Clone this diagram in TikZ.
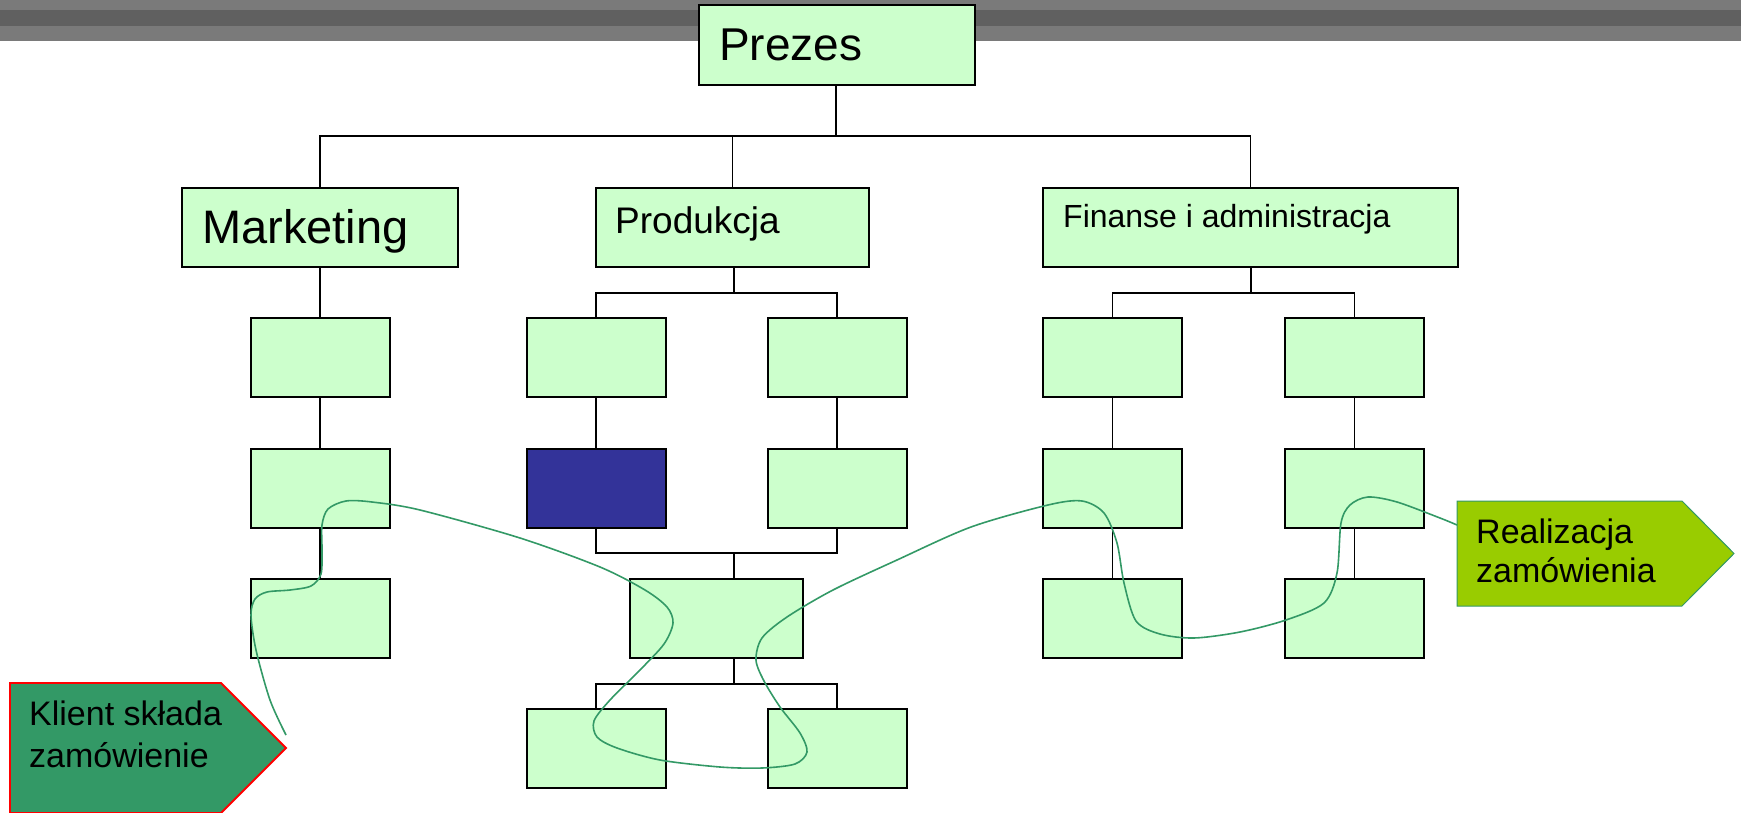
\documentclass[tikz,border=0pt]{standalone}
\usepackage{fontspec}
\setmainfont{Liberation Sans}
\definecolor{boxgreen}{HTML}{CCFFCC}
\definecolor{boxblue}{HTML}{333399}
\definecolor{seagreen}{HTML}{339966}
\definecolor{limegreen}{HTML}{99CC00}
\definecolor{barlight}{HTML}{7A7A7A}
\definecolor{bardark}{HTML}{606060}
\tikzset{
  box/.style={draw=black, line width=2pt, fill=boxgreen, inner sep=0pt, minimum width=139pt, minimum height=79pt},
  topbox/.style={box, minimum height=79pt},
  conn/.style={draw=black, line width=1.8pt},
  lbl/.style={anchor=base west, inner sep=0pt, text=black},
  flow/.style={draw=seagreen, line width=1.6pt}
}
\begin{document}
\begin{tikzpicture}[x=1pt,y=-1pt]
\useasboundingbox (0,0) rectangle (1741,812);
% top bar
\fill[barlight] (0,0) rectangle (1741,41);
\fill[bardark] (0,10) rectangle (1741,26);

% top level
\node[topbox, minimum width=276pt, minimum height=80pt] (prezes) at (837,45) {};
\node[lbl, font=\fontsize{46}{55}\selectfont] (tprezes) at (719,60) {Prezes};
\node[topbox, minimum width=276pt] (mkt) at (320,227.5) {};
\node[lbl, font=\fontsize{47}{56}\selectfont] (tmkt) at (202,243) {Marketing};
\node[topbox, minimum width=273pt] (prod) at (732.5,227.5) {};
\node[lbl, font=\fontsize{37}{44}\selectfont] (tprod) at (615,233) {Produkcja};
\node[topbox, minimum width=415pt] (fin) at (1250.5,227.5) {};
\node[lbl, font=\fontsize{32}{38}\selectfont] (tfin) at (1063,227) {Finanse i administracja};

% marketing column
\node[box] (m1) at (320,357.5) {};
\node[box] (m2) at (320,488.5) {};
\node[box] (m3) at (320,618.5) {};
% production
\node[box] (p1) at (596,357.5) {};
\node[box] (p2) at (837,357.5) {};
\node[box, fill=boxblue] (p3) at (596,488.5) {};
\node[box] (p4) at (837,488.5) {};
\node[box, minimum width=173pt] (pm) at (716.5,618.5) {};
\node[box] (p5) at (596,748.5) {};
\node[box] (p6) at (837,748.5) {};
% finance
\node[box] (f1) at (1112.5,357.5) {};
\node[box] (f2) at (1354.5,357.5) {};
\node[box] (f3) at (1112.5,488.5) {};
\node[box] (f4) at (1354.5,488.5) {};
\node[box] (f5) at (1112.5,618.5) {};
\node[box] (f6) at (1354.5,618.5) {};

% connectors
\coordinate (bus0) at (836,136);
\draw[conn] (bus0 |- prezes.south) -- (bus0);
\draw[conn] (mkt.north) -- (mkt.north |- bus0) -- (fin.north |- bus0) -- (fin.north);
\draw[conn] (prod.north) -- (prod.north |- bus0);
\draw[conn] (mkt.south) -- (m1.north);
\draw[conn] (m1.south) -- (m2.north);
\draw[conn] (m2.south) -- (m3.north);

\coordinate (pbus1) at (734,293);
\draw[conn] (pbus1 |- prod.south) -- (pbus1);
\draw[conn] (p1.north) -- (p1.north |- pbus1) -- (p2.north |- pbus1) -- (p2.north);
\draw[conn] (p1.south) -- (p3.north);
\draw[conn] (p2.south) -- (p4.north);
\coordinate (pbus2) at (734,553);
\draw[conn] (p3.south) -- (p3.south |- pbus2) -- (p4.south |- pbus2) -- (p4.south);
\draw[conn] (pbus2) -- (pbus2 |- pm.north);
\coordinate (pbus3) at (734,684);
\draw[conn] (pbus3 |- pm.south) -- (pbus3);
\draw[conn] (p5.north) -- (p5.north |- pbus3) -- (p6.north |- pbus3) -- (p6.north);

\coordinate (fbus1) at (1251,293);
\draw[conn] (fbus1 |- fin.south) -- (fbus1);
\draw[conn] (f1.north) -- (f1.north |- fbus1) -- (f2.north |- fbus1) -- (f2.north);
\draw[conn] (f1.south) -- (f3.north);
\draw[conn] (f2.south) -- (f4.north);
\draw[conn] (f3.south) -- (f5.north);
\draw[conn] (f4.south) -- (f6.north);

% arrows
\filldraw[fill=seagreen, draw=red, line width=1.8pt] (10,683) -- (221,683) -- (286,748) -- (221,813) -- (10,813) -- cycle;
\node[lbl, font=\fontsize{34}{42}\selectfont] (tklient1) at (29,725) {Klient składa};
\node[lbl, font=\fontsize{34}{42}\selectfont] (tklient2) at (29,767) {zamówienie};
\filldraw[fill=limegreen, draw=seagreen, line width=1pt] (1457,501) -- (1682,501) -- (1734,553.5) -- (1682,606) -- (1457,606) -- cycle;
\node[lbl, font=\fontsize{34}{42}\selectfont] (treal1) at (1476,543) {Realizacja};
\node[lbl, font=\fontsize{34}{42}\selectfont] (treal2) at (1476,582) {zamówienia};

% flow curve
\coordinate (fstart) at (286,735);
\coordinate (fend) at (1457,525);
\draw[flow] plot[smooth, tension=0.5] coordinates {
 (fstart) (270,700) (256,650) (251,615) (255,599) (267,592) (290,590) (311,586) (321,574)
 (322,550) (322,525) (328,509) (346,501) (372,502) (420,510) (520,538) (600,567) (645,590)
 (667,607) (673,623) (664,644) (640,670) (610,700) (594,721) (597,737) (617,748) (660,760)
 (720,767) (762,768) (795,764) (807,752) (800,733) (780,707) (764,681) (756,660) (762,638)
 (787,617) (833,590) (897,560) (971,527) (1048,505) (1082,501) (1104,513) (1117,543)
 (1124,583) (1136,621) (1160,634) (1194,638) (1240,632) (1286,620) (1324,603) (1337,573)
 (1341,523) (1350,505) (1368,497) (1397,502) (1440,518) (fend)};
\end{tikzpicture}
\end{document}
